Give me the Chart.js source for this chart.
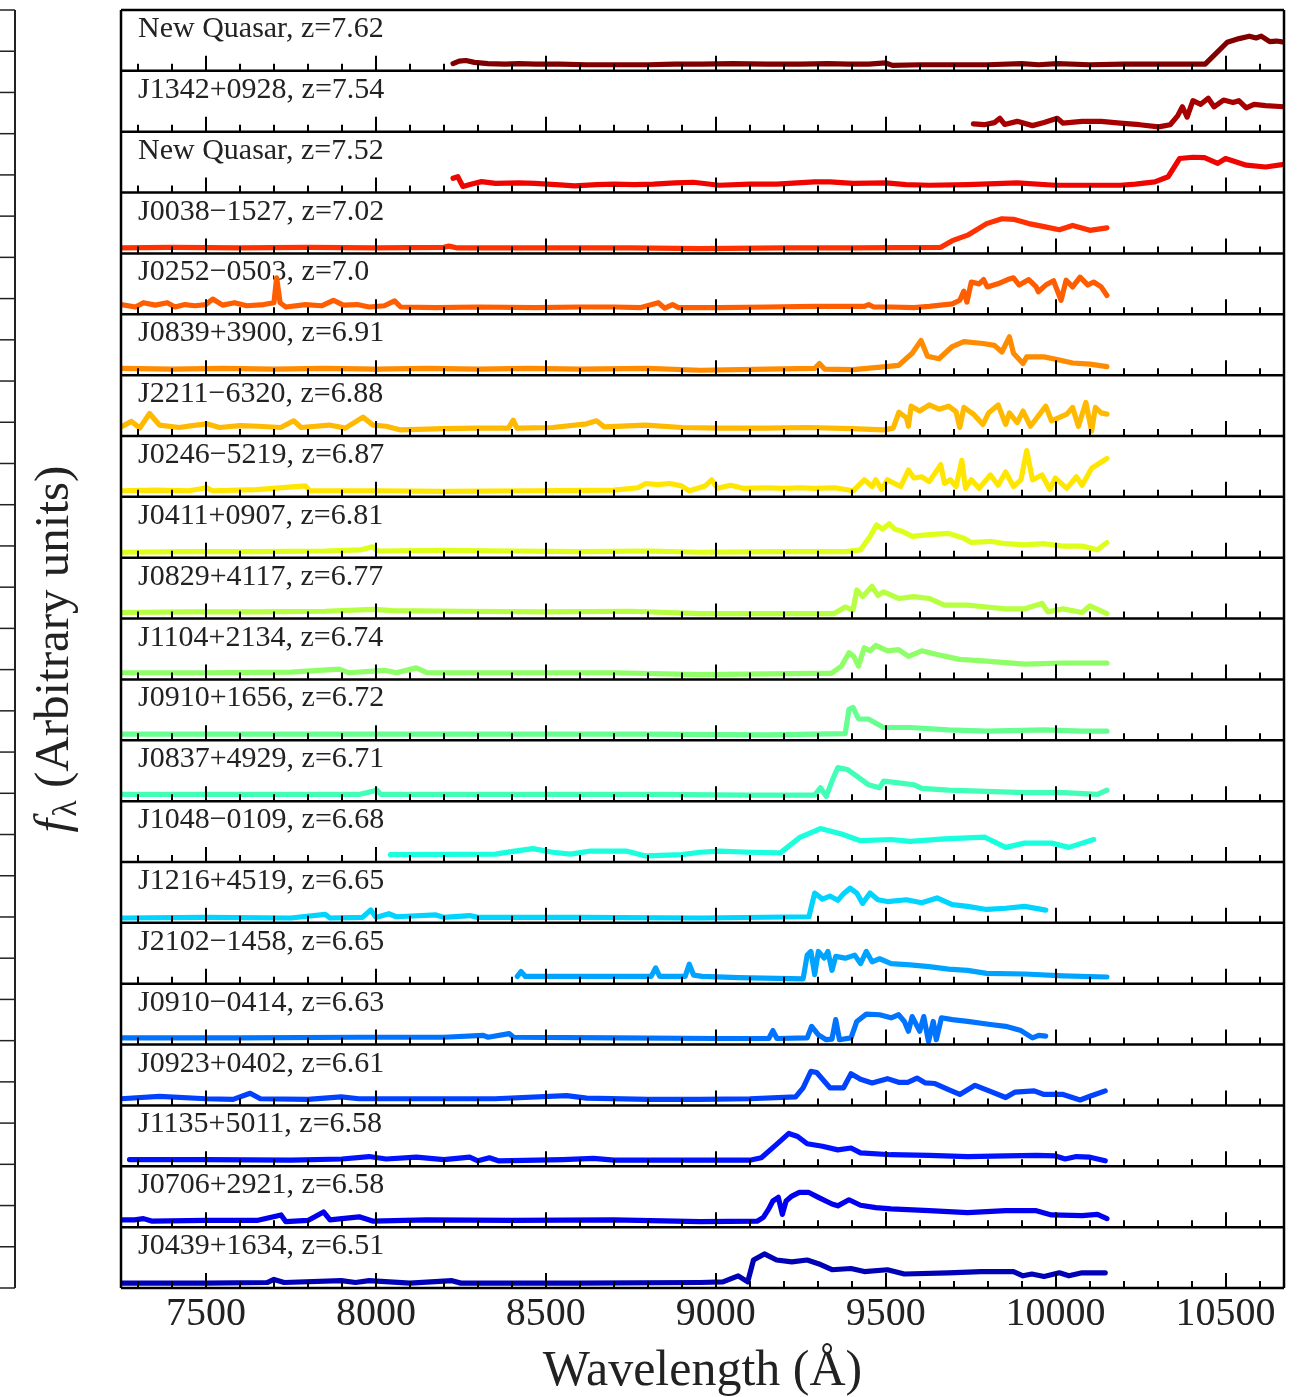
<!DOCTYPE html>
<html>
<head>
<meta charset="utf-8">
<title>High-redshift quasar spectra</title>
<script src="https://cdn.jsdelivr.net/npm/chart.js@4.4.1/dist/chart.umd.min.js"></script>
<style>
  html, body { margin: 0; padding: 0; background: #fff; }
  #wrap { position: relative; width: 1299px; height: 1397px; }
</style>
</head>
<body>
<div id="wrap"><canvas id="spectra"></canvas></div>
<script>
// Quasars, top panel first
const NAMES = ['New Quasar', 'J1342+0928', 'New Quasar', 'J0038\u22121527', 'J0252\u22120503',
  'J0839+3900', 'J2211\u22126320', 'J0246\u22125219', 'J0411+0907', 'J0829+4117', 'J1104+2134',
  'J0910+1656', 'J0837+4929', 'J1048\u22120109', 'J1216+4519', 'J2102\u22121458', 'J0910\u22120414',
  'J0923+0402', 'J1135+5011', 'J0706+2921', 'J0439+1634'];
const REDSHIFTS = ['7.62', '7.54', '7.52', '7.02', '7.0', '6.91', '6.88', '6.87', '6.81', '6.77',
  '6.74', '6.72', '6.71', '6.68', '6.65', '6.65', '6.63', '6.61', '6.58', '6.58', '6.51'];

// x axis (Angstrom)
const X_MIN = 7250;
const X_MAX = 10672;
const X_TICKS = [7500, 8000, 8500, 9000, 9500, 10000, 10500];

// spectra: [wavelength, flux] with flux scaled to the height of its own panel
const SPEC_NQ762 = [[8227,.12],[8245,.16],[8265,.17],[8290,.14],[8330,.12],[8380,.11],[8420,.12],[8470,.11],[8540,.11],[8620,.10],[8700,.10],[8800,.10],[8880,.11],[8960,.11],[9050,.12],[9150,.11],[9250,.11],[9330,.12],[9390,.11],[9450,.11],[9500,.13],[9520,.09],[9600,.10],[9700,.10],[9800,.10],[9900,.12],[9950,.10],[10005,.12],[10100,.10],[10200,.11],[10300,.11],[10440,.11],[10505,.47],[10540,.53],[10570,.57],[10590,.54],[10605,.57],[10630,.48],[10650,.49],[10672,.47]];
const SPEC_J1342 = [[9758,.13],[9790,.115],[9820,.15],[9836,.22],[9850,.12],[9887,.17],[9932,.10],[9966,.15],[10005,.22],[10022,.14],[10078,.17],[10134,.17],[10190,.14],[10247,.115],[10303,.08],[10337,.115],[10359,.26],[10373,.41],[10387,.24],[10404,.51],[10427,.45],[10449,.55],[10466,.41],[10494,.52],[10522,.48],[10539,.51],[10561,.39],[10584,.45],[10618,.43],[10672,.41]];
const SPEC_NQ752 = [[8227,.235],[8241,.26],[8256,.10],[8282,.14],[8311,.18],[8352,.15],[8420,.16],[8468,.15],[8530,.13],[8585,.11],[8650,.13],[8701,.14],[8760,.13],[8817,.14],[8880,.16],[8934,.17],[9010,.12],[9100,.14],[9179,.14],[9240,.16],[9291,.175],[9336,.175],[9404,.15],[9501,.16],[9560,.13],[9628,.12],[9741,.13],[9887,.16],[9999,.12],[10100,.12],[10190,.12],[10235,.14],[10292,.175],[10331,.26],[10365,.56],[10404,.58],[10438,.575],[10477,.48],[10500,.56],[10561,.45],[10618,.42],[10672,.465]];
const SPEC_J0038 = [[7250,.09],[7400,.10],[7600,.09],[7800,.10],[8000,.09],[8200,.10],[8215,.12],[8240,.09],[8500,.09],[8750,.09],[8954,.08],[9200,.09],[9404,.09],[9662,.10],[9696,.21],[9741,.30],[9797,.49],[9842,.57],[9876,.56],[9921,.49],[9966,.44],[10011,.39],[10050,.46],[10101,.38],[10151,.42]];
const SPEC_J0252 = [[7250,.16],[7293,.12],[7316,.19],[7351,.15],[7386,.19],[7409,.12],[7438,.16],[7467,.14],[7500,.16],[7520,.25],[7549,.15],[7584,.19],[7620,.14],[7670,.16],[7700,.19],[7708,.60],[7718,.19],[7735,.12],[7793,.16],[7840,.14],[7875,.23],[7904,.15],[7945,.16],[7980,.12],[8025,.14],[8055,.22],[8073,.12],[8177,.11],[8300,.12],[8468,.11],[8600,.12],[8701,.12],[8780,.11],[8831,.19],[8850,.10],[8873,.16],[8890,.11],[9013,.11],[9150,.12],[9291,.13],[9437,.13],[9450,.16],[9465,.12],[9516,.12],[9583,.11],[9628,.13],[9696,.17],[9718,.23],[9730,.38],[9739,.20],[9752,.53],[9775,.50],[9788,.57],[9799,.45],[9830,.50],[9859,.57],[9876,.60],[9893,.48],[9921,.57],[9943,.45],[9949,.37],[9971,.48],[9994,.55],[10016,.23],[10031,.56],[10050,.45],[10072,.61],[10095,.48],[10112,.53],[10134,.45],[10151,.31]];
const SPEC_J0839 = [[7250,.11],[7400,.10],[7550,.11],[7700,.10],[7850,.11],[8000,.10],[8150,.11],[8300,.10],[8450,.11],[8600,.10],[8800,.11],[8954,.08],[9150,.10],[9291,.11],[9305,.19],[9320,.10],[9404,.09],[9501,.14],[9538,.16],[9578,.36],[9604,.57],[9623,.31],[9657,.27],[9696,.47],[9730,.55],[9786,.52],[9820,.49],[9842,.38],[9864,.63],[9876,.36],[9904,.19],[9915,.30],[9966,.30],[10011,.25],[10050,.20],[10101,.18],[10151,.14]];
const SPEC_J2211 = [[7250,.15],[7281,.24],[7305,.13],[7334,.37],[7363,.18],[7421,.14],[7460,.17],[7502,.20],[7540,.14],[7600,.17],[7654,.16],[7720,.14],[7758,.25],[7780,.14],[7863,.18],[7910,.13],[7962,.31],[7991,.18],[8030,.16],[8073,.10],[8200,.12],[8294,.13],[8390,.13],[8404,.26],[8415,.13],[8520,.14],[8620,.20],[8649,.25],[8672,.15],[8794,.18],[8900,.14],[9013,.13],[9150,.13],[9269,.14],[9400,.12],[9494,.10],[9522,.13],[9539,.39],[9561,.30],[9567,.16],[9575,.49],[9600,.41],[9628,.51],[9657,.44],[9685,.49],[9707,.40],[9718,.14],[9730,.47],[9758,.36],[9786,.19],[9803,.38],[9831,.51],[9853,.19],[9864,.38],[9887,.22],[9904,.41],[9926,.16],[9971,.49],[9988,.25],[10033,.36],[10050,.47],[10067,.16],[10089,.55],[10106,.08],[10117,.47],[10134,.38],[10151,.36]];
const SPEC_J0246 = [[7250,.10],[7350,.11],[7450,.10],[7502,.15],[7520,.10],[7650,.12],[7793,.18],[7805,.10],[8000,.10],[8200,.09],[8468,.10],[8700,.11],[8771,.15],[8794,.22],[8830,.20],[8864,.22],[8899,.18],[8922,.10],[8969,.18],[8988,.28],[9005,.14],[9044,.19],[9080,.14],[9150,.15],[9200,.14],[9250,.15],[9291,.14],[9350,.15],[9404,.10],[9437,.28],[9460,.17],[9471,.28],[9488,.12],[9505,.28],[9544,.17],[9567,.44],[9583,.31],[9606,.33],[9628,.25],[9662,.53],[9673,.22],[9690,.28],[9707,.17],[9724,.60],[9735,.14],[9752,.28],[9775,.14],[9808,.36],[9831,.19],[9853,.41],[9876,.17],[9898,.28],[9915,.76],[9932,.28],[9960,.36],[9983,.12],[9999,.31],[10033,.14],[10061,.33],[10078,.19],[10106,.47],[10151,.63]];
const SPEC_J0411 = [[7250,.09],[7450,.10],[7650,.10],[7850,.11],[7956,.13],[7991,.18],[8005,.11],[8200,.12],[8400,.11],[8600,.10],[8800,.11],[8954,.09],[9200,.10],[9381,.10],[9426,.13],[9454,.35],[9473,.54],[9491,.47],[9510,.56],[9527,.47],[9550,.43],[9578,.35],[9628,.38],[9685,.40],[9730,.32],[9752,.25],[9808,.27],[9853,.23],[9909,.21],[9966,.23],[10022,.19],[10078,.19],[10123,.13],[10151,.25]];
const SPEC_J0829 = [[7250,.10],[7450,.11],[7650,.11],[7850,.12],[7991,.15],[8050,.13],[8250,.12],[8500,.11],[8750,.12],[8954,.08],[9150,.08],[9347,.08],[9381,.19],[9404,.14],[9415,.47],[9432,.36],[9460,.53],[9477,.38],[9494,.44],[9538,.33],[9583,.36],[9628,.33],[9673,.22],[9741,.22],[9797,.19],[9853,.16],[9909,.16],[9960,.25],[9977,.11],[10022,.16],[10078,.10],[10101,.21],[10151,.08]];
const SPEC_J1104 = [[7250,.11],[7500,.11],[7750,.12],[7892,.17],[7920,.11],[8026,.15],[8060,.11],[8119,.19],[8150,.11],[8400,.11],[8700,.11],[8954,.08],[9291,.10],[9340,.10],[9370,.22],[9392,.44],[9406,.38],[9420,.22],[9437,.52],[9454,.47],[9471,.56],[9505,.47],[9538,.49],[9567,.38],[9606,.47],[9651,.41],[9718,.33],[9797,.30],[9909,.25],[10022,.27],[10151,.27]];
const SPEC_J0910P = [[7250,.10],[7600,.10],[8000,.10],[8400,.10],[8800,.10],[9150,.09],[9381,.11],[9392,.51],[9404,.54],[9420,.35],[9449,.35],[9494,.21],[9572,.21],[9685,.17],[9797,.15],[9966,.17],[10078,.15],[10151,.15]];
const SPEC_J0837 = [[7250,.11],[7600,.11],[7950,.11],[8003,.18],[8015,.11],[8400,.11],[8800,.11],[9100,.10],[9291,.10],[9308,.22],[9325,.08],[9342,.33],[9359,.55],[9387,.52],[9415,.41],[9449,.27],[9482,.22],[9494,.33],[9538,.30],[9583,.27],[9606,.21],[9685,.18],[9797,.16],[9909,.14],[10022,.14],[10123,.11],[10151,.18]];
const SPEC_J1048 = [[8043,.12],[8352,.13],[8398,.17],[8462,.22],[8520,.16],[8573,.13],[8631,.18],[8736,.18],[8794,.10],[8900,.12],[8954,.16],[9013,.18],[9100,.16],[9190,.15],[9246,.40],[9308,.55],[9370,.46],[9426,.35],[9516,.37],[9572,.34],[9673,.38],[9791,.41],[9853,.24],[9909,.31],[9988,.31],[10039,.24],[10112,.37]];
const SPEC_J1216 = [[7250,.08],[7500,.09],[7750,.08],[7851,.14],[7865,.08],[7960,.09],[7985,.21],[8000,.09],[8038,.15],[8060,.10],[8177,.13],[8200,.09],[8276,.12],[8300,.09],[8600,.09],[8954,.08],[9274,.10],[9291,.49],[9314,.39],[9336,.44],[9359,.37],[9376,.48],[9395,.57],[9415,.49],[9432,.32],[9454,.49],[9477,.38],[9505,.35],[9561,.38],[9606,.33],[9651,.41],[9696,.30],[9741,.27],[9797,.22],[9853,.24],[9909,.27],[9971,.21]];
const SPEC_J2102 = [[8416,.12],[8427,.20],[8440,.12],[8585,.12],[8700,.12],[8810,.12],[8823,.26],[8835,.12],[8910,.12],[8922,.32],[8935,.14],[8960,.12],[9066,.10],[9257,.08],[9269,.47],[9280,.53],[9291,.15],[9302,.53],[9319,.42],[9330,.53],[9342,.22],[9353,.45],[9381,.42],[9409,.47],[9426,.33],[9443,.53],[9460,.36],[9482,.41],[9516,.33],[9572,.31],[9628,.28],[9685,.24],[9741,.22],[9797,.17],[9909,.16],[10022,.13],[10151,.11]];
const SPEC_J0910M = [[7250,.11],[7600,.11],[7950,.12],[8200,.12],[8316,.15],[8330,.12],[8392,.18],[8405,.12],[8700,.11],[9000,.10],[9156,.10],[9168,.23],[9180,.10],[9269,.11],[9282,.30],[9302,.16],[9325,.08],[9342,.09],[9353,.41],[9364,.08],[9398,.11],[9415,.38],[9443,.50],[9482,.49],[9516,.44],[9538,.49],[9555,.38],[9567,.22],[9578,.46],[9600,.22],[9612,.46],[9626,.05],[9640,.38],[9649,.08],[9664,.44],[9696,.41],[9741,.38],[9808,.33],[9853,.30],[9898,.23],[9932,.11],[9950,.15],[9971,.14]];
const SPEC_J0923 = [[7250,.11],[7363,.15],[7500,.11],[7580,.10],[7630,.20],[7660,.11],[7800,.10],[7898,.14],[7950,.11],[8100,.11],[8350,.11],[8561,.16],[8620,.12],[8800,.10],[8954,.10],[9100,.11],[9235,.14],[9257,.29],[9280,.56],[9297,.54],[9336,.29],[9376,.29],[9398,.52],[9426,.43],[9460,.37],[9505,.44],[9538,.38],[9565,.38],[9592,.45],[9617,.37],[9645,.36],[9685,.26],[9718,.18],[9763,.33],[9808,.23],[9853,.13],[9881,.22],[9937,.24],[9966,.18],[10022,.18],[10072,.09],[10101,.15],[10146,.24]];
const SPEC_J1135 = [[7275,.11],[7500,.11],[7750,.10],[7900,.12],[7980,.16],[8030,.12],[8119,.15],[8200,.11],[8276,.15],[8300,.09],[8334,.14],[8360,.09],[8550,.11],[8640,.13],[8700,.10],[8954,.10],[9100,.10],[9134,.14],[9179,.36],[9215,.54],[9241,.49],[9269,.37],[9314,.33],[9359,.27],[9398,.30],[9426,.22],[9516,.19],[9628,.18],[9741,.16],[9853,.17],[9943,.18],[10000,.17],[10028,.12],[10061,.16],[10101,.15],[10146,.09]];
const SPEC_J0706 = [[7250,.12],[7290,.12],[7316,.14],[7340,.10],[7500,.11],[7650,.11],[7721,.20],[7735,.09],[7800,.11],[7846,.25],[7865,.12],[7900,.14],[7951,.17],[7990,.10],[8150,.12],[8400,.11],[8700,.12],[8954,.09],[9123,.10],[9140,.16],[9156,.30],[9168,.43],[9184,.49],[9196,.21],[9207,.43],[9224,.51],[9246,.57],[9274,.57],[9302,.49],[9342,.38],[9359,.35],[9392,.45],[9426,.36],[9471,.32],[9516,.30],[9628,.27],[9741,.24],[9853,.27],[9943,.27],[9988,.20],[10078,.19],[10123,.21],[10151,.14]];
const SPEC_J0439 = [[7250,.08],[7500,.08],[7680,.09],[7700,.14],[7730,.09],[7898,.12],[7940,.09],[7980,.12],[8100,.08],[8224,.12],[8250,.08],[8600,.08],[8954,.09],[9021,.10],[9066,.20],[9094,.10],[9111,.46],[9143,.56],[9179,.46],[9224,.43],[9269,.46],[9302,.40],[9342,.30],[9398,.32],[9437,.27],[9505,.30],[9555,.23],[9685,.25],[9780,.27],[9876,.27],[9904,.20],[9930,.23],[9966,.19],[10011,.25],[10039,.20],[10078,.25],[10146,.25]];

const SPECTRA = [SPEC_NQ762, SPEC_J1342, SPEC_NQ752, SPEC_J0038, SPEC_J0252, SPEC_J0839, SPEC_J2211,
  SPEC_J0246, SPEC_J0411, SPEC_J0829, SPEC_J1104, SPEC_J0910P, SPEC_J0837, SPEC_J1048, SPEC_J1216,
  SPEC_J2102, SPEC_J0910M, SPEC_J0923, SPEC_J1135, SPEC_J0706, SPEC_J0439];

// jet colours, dark red on top down to dark blue
const COLORS = ['#800000', '#a60000', '#ee0500', '#ff3100', '#ff5e00', '#ff8b00', '#ffb900',
  '#ffe600', '#ddff1a', '#b6ff41', '#8fff67', '#67ff8f', '#41ffb6', '#1affdd', '#00d4ff',
  '#00a4ff', '#0073ff', '#0042ff', '#0012ff', '#0000ee', '#0000b7'];

const SERIF = "'Liberation Serif', 'DejaVu Serif', serif";
const NPANELS = NAMES.length;

// each spectrum sits in its own unit-high band of the y scale
const datasets = SPECTRA.map((spec, k) => ({
  label: NAMES[k],
  data: spec.map(([w, f]) => ({ x: w, y: f + (NPANELS - 1 - k) })),
  borderColor: COLORS[k],
  borderWidth: 5.2,
  borderJoinStyle: 'round',
  borderCapStyle: 'round',
  pointRadius: 0,
  fill: false,
  tension: 0
}));

// panel labels, inner tick marks, panel frames and the y title
const panelFrame = {
  id: 'panelFrame',
  beforeDatasetsDraw(chart) {
    const { ctx, chartArea, scales: { y } } = chart;
    ctx.save();
    ctx.fillStyle = '#222';
    ctx.font = `30px ${SERIF}`;
    ctx.textBaseline = 'alphabetic';
    NAMES.forEach((name, k) => {
      const top = y.getPixelForValue(NPANELS - k);
      ctx.fillText(`${name}, z=${REDSHIFTS[k]}`, chartArea.left + 17, top + 27);
    });
    ctx.restore();
  },
  afterDatasetsDraw(chart) {
    const { ctx, chartArea, scales: { x, y } } = chart;
    ctx.save();
    ctx.strokeStyle = '#000';
    ctx.lineWidth = 2;
    for (let k = 0; k < NPANELS; k++) {
      const base = y.getPixelForValue(k);
      for (let w = Math.ceil(X_MIN / 100) * 100; w <= X_MAX; w += 100) {
        const px = Math.round(x.getPixelForValue(w));
        const len = w % 500 === 0 ? 15 : 7;
        ctx.beginPath();
        ctx.moveTo(px, base);
        ctx.lineTo(px, base - len);
        ctx.stroke();
      }
    }
    ctx.lineWidth = 2.5;
    for (let k = 0; k <= NPANELS; k++) {
      const py = y.getPixelForValue(k);
      ctx.beginPath();
      ctx.moveTo(chartArea.left, py);
      ctx.lineTo(chartArea.right, py);
      ctx.stroke();
    }
    ctx.beginPath();
    ctx.moveTo(chartArea.left, chartArea.top);
    ctx.lineTo(chartArea.left, chartArea.bottom);
    ctx.moveTo(chartArea.right, chartArea.top);
    ctx.lineTo(chartArea.right, chartArea.bottom);
    ctx.stroke();
    ctx.restore();
  },
  afterDraw(chart) {
    const { ctx, chartArea } = chart;
    ctx.save();

    // y title: f_lambda (Arbitrary units)
    const midY = (chartArea.top + chartArea.bottom) / 2;
    ctx.translate(68, midY);
    ctx.rotate(-Math.PI / 2);
    ctx.fillStyle = '#222';
    ctx.textBaseline = 'alphabetic';
    const rest = ' (Arbitrary units)';
    ctx.font = `italic 49px ${SERIF}`;
    const wF = ctx.measureText('f').width;
    ctx.font = `34px ${SERIF}`;
    const wL = ctx.measureText('\u03bb').width;
    ctx.font = `49px ${SERIF}`;
    const wR = ctx.measureText(rest).width;
    let cx = -(wF + wL + wR + 2) / 2;
    ctx.font = `italic 49px ${SERIF}`;
    ctx.fillText('f', cx, 0);
    cx += wF + 2;
    ctx.font = `34px ${SERIF}`;
    ctx.fillText('\u03bb', cx, 8);
    cx += wL;
    ctx.font = `49px ${SERIF}`;
    ctx.fillText(rest, cx, 0);
    ctx.restore();

    // edge of the neighbouring frame on the far left
    ctx.save();
    ctx.strokeStyle = '#222';
    ctx.lineWidth = 2;
    ctx.beginPath();
    ctx.moveTo(15, chartArea.top);
    ctx.lineTo(15, chartArea.bottom);
    ctx.stroke();
    ctx.lineWidth = 1.5;
    const nEdge = 31;
    for (let j = 0; j <= nEdge; j++) {
      const py = chartArea.top + (chartArea.bottom - chartArea.top) * j / nEdge;
      ctx.beginPath();
      ctx.moveTo(0, py);
      ctx.lineTo(15, py);
      ctx.stroke();
    }
    ctx.restore();
  }
};

new Chart(document.getElementById('spectra'), {
  type: 'line',
  data: { datasets },
  options: {
    responsive: true,
    maintainAspectRatio: false,
    animation: false,
    devicePixelRatio: 1,
    layout: { padding: { left: 121, right: 15, top: 10, bottom: 0 } },
    plugins: { legend: { display: false }, tooltip: { enabled: false } },
    scales: {
      x: {
        type: 'linear',
        min: X_MIN,
        max: X_MAX,
        afterBuildTicks: scale => { scale.ticks = X_TICKS.map(v => ({ value: v })); },
        afterFit: scale => { scale.height = 109; },
        grid: { display: false, drawTicks: false },
        border: { display: false },
        ticks: {
          color: '#222',
          font: { family: SERIF, size: 40 },
          padding: 2,
          maxRotation: 0,
          autoSkip: false,
          callback: v => String(v)
        },
        title: {
          display: true,
          text: 'Wavelength (\u00c5)',
          color: '#222',
          font: { family: SERIF, size: 50, lineHeight: 1 },
          padding: 0
        }
      },
      y: { type: 'linear', min: 0, max: NPANELS, display: false }
    }
  },
  plugins: [panelFrame]
});
</script>
</body>
</html>
